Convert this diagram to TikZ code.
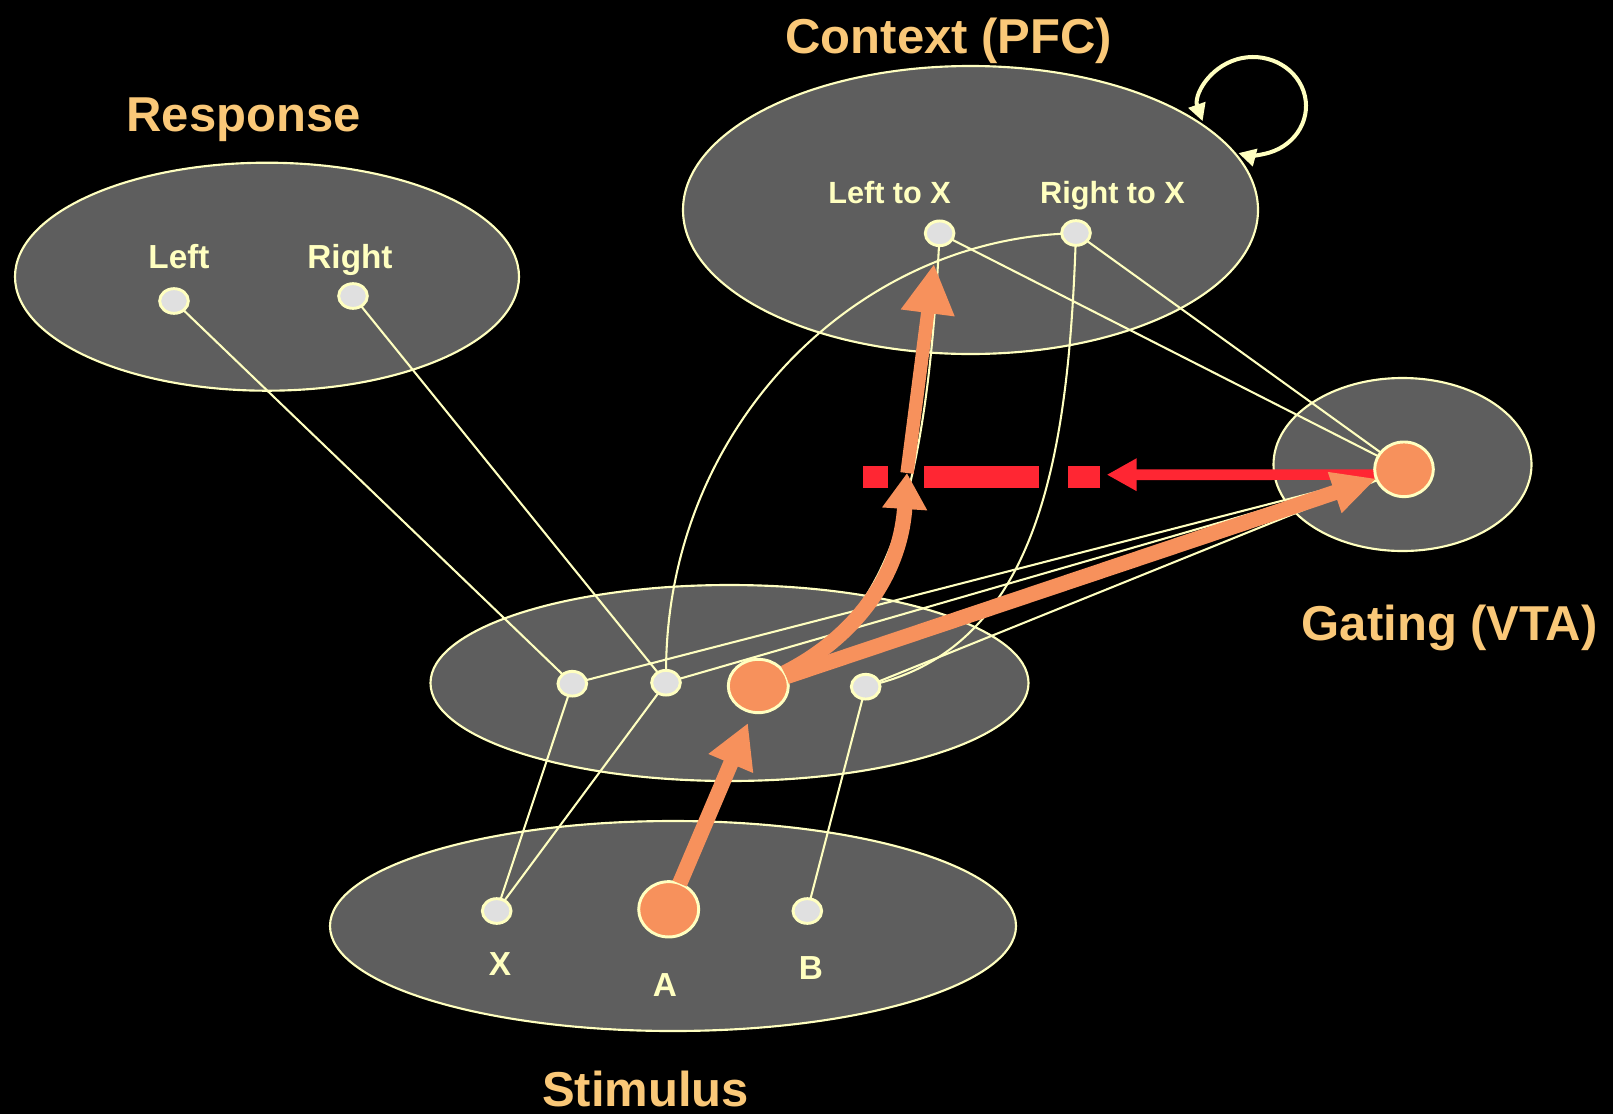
\documentclass[tikz,border=0pt]{standalone}
\usepackage{fontspec}
\setmainfont{Liberation Sans}
\usetikzlibrary{shapes.geometric,arrows.meta}

\definecolor{layergray}{HTML}{5E5E5E}
\definecolor{unitgray}{HTML}{E0E0E0}
\definecolor{cream}{HTML}{FFFFC0}
\definecolor{titlecol}{HTML}{FAC878}
\definecolor{salmon}{HTML}{F7915C}
\definecolor{alarm}{HTML}{FF2633}

\pgfdeclarelayer{ellipses}
\pgfdeclarelayer{edges}
\pgfsetlayers{ellipses,edges,main}

\begin{document}
\begin{tikzpicture}[x=0.75pt,y=-0.75pt,
  every node/.style={inner sep=0pt, outer sep=0pt},
  layer/.style={ellipse, draw=cream, line width=1.6pt, fill=layergray},
  unit/.style={ellipse, draw=cream, line width=2.2pt, fill=unitgray,
    minimum width=21.5pt, minimum height=18.5pt},
  hot/.style={ellipse, draw=cream, line width=2.2pt, fill=salmon,
    minimum width=45pt, minimum height=40pt},
  wire/.style={draw=cream, line width=1.55pt},
  flow/.style={draw=salmon, line width=11.5pt},
  title/.style={text=titlecol, font=\fontsize{36.75}{44}\selectfont\bfseries, anchor=base},
  tag/.style={text=cream, font=\fontsize{23}{28}\selectfont\bfseries, anchor=base},
  bigtag/.style={text=cream, font=\fontsize{25}{30}\selectfont\bfseries, anchor=base},
]
\useasboundingbox (0,0) rectangle (1613,1114);

% canvas and pools of units
\begin{pgfonlayer}{ellipses}
  \fill[black] (0,0) rectangle (1613,1114);
  \node[layer, minimum width=378pt, minimum height=171pt] (resp) at (267,276.7) {};
  \node[layer, minimum width=431.25pt, minimum height=216pt] (ctx) at (970.5,210) {};
  \node[layer, minimum width=193.5pt, minimum height=129.75pt] (gate) at (1402.5,464.5) {};
  \node[layer, minimum width=448.5pt, minimum height=147pt] (hid) at (729.5,683) {};
  \node[layer, minimum width=514.5pt, minimum height=157.5pt] (stim) at (673,926) {};
\end{pgfonlayer}

% units
\node[unit] (rl) at (174,301) {};
\node[unit] (rr) at (353,296) {};
\node[unit] (ltx) at (939.6,233.3) {};
\node[unit] (rtx) at (1076,233) {};
\node[unit] (h1) at (572.3,683.7) {};
\node[unit] (h2) at (666,682.7) {};
\node[hot]  (ho) at (758.3,686) {};
\node[unit] (h4) at (865.7,686.7) {};
\node[unit] (sx) at (496.7,911) {};
\node[hot, minimum height=41.5pt] (sa) at (668.7,909.3) {};
\node[unit] (sb) at (807.3,911) {};
\node[hot, minimum width=44pt, minimum height=41pt] (go) at (1404,469.3) {};

\coordinate (redtip) at (1106.7,474.7);
\coordinate (dashstart) at (1100,476.5);
\coordinate (dashend) at (863,476.5);
\coordinate (hoin) at (748,723);
\coordinate (midtip) at (907,473);
\coordinate (ltxin) at (934,264);

% connections
\begin{pgfonlayer}{edges}
  \draw[wire] (rl) -- (h1);
  \draw[wire] (rr) -- (h2);
  \draw[wire] (sx) -- (h1);
  \draw[wire] (sx) -- (h2);
  \draw[wire] (sb) -- (h4);
  \draw[wire] (h1) -- (go);
  \draw[wire] (h2) -- (go);
  \draw[wire] (h4) -- (go);
  \draw[wire] (ltx) -- (go);
  \draw[wire] (rtx) -- (go);
  \draw[wire] (h2) .. controls (667,430) and (850,245) .. (rtx);
  \draw[wire] (rtx) .. controls (1068,450) and (1040,640) .. (h4);
  \draw[wire] (ho) .. controls (880,620) and (925,520) .. (ltx);
  % recurrent loop on the context pool
  \draw[cream, line width=3pt,
    {Triangle[length=13pt,width=13pt]}-{Triangle[length=13pt,width=13pt]}]
    (1253,106) ++(162:53 and 49) arc[start angle=162, end angle=466, x radius=53, y radius=49];
  % gating signal
  \draw[alarm, line width=8pt, -{Triangle[length=22.5pt,width=23pt]}]
    ([yshift=-4pt]go.west) -- (redtip);
  \draw[alarm, line width=16.5pt,
    dash pattern=on 24pt off 21.75pt on 86pt off 27pt on 18.75pt] (dashstart) -- (dashend);
\end{pgfonlayer}

% active pathway
\draw[flow, -{Triangle[length=33pt,width=34pt]}] (sa) -- (hoin);
\draw[flow, -{Triangle[length=33pt,width=30pt]}] (ho) -- (go);
\draw[flow, -{Triangle[length=27pt,width=32pt]}] (ho) .. controls (850,640) and (900,580) .. (midtip);
\draw[flow, line width=10pt, -{Triangle[length=37pt,width=38pt]}] (midtip) -- (ltxin);

% titles
\node[title] (tresp) at (243.6,131.7) {Response};
\node[title] (tctx) at (948.8,53.3) {Context (PFC)};
\node[title] (tgate) at (1449.7,640.7) {Gating (VTA)};
\node[title] (tstim) at (645.5,1106) {Stimulus};

% unit labels
\node[tag] (lltx) at (889.6,203) {Left to X};
\node[tag] (lrtx) at (1112.5,203) {Right to X};
\node[bigtag] (lrl) at (179,268) {Left};
\node[bigtag] (lrr) at (350,268) {Right};
\node[bigtag] (lsx) at (500,975) {X};
\node[bigtag] (lsa) at (665,996.7) {A};
\node[bigtag] (lsb) at (811,979) {B};
\end{tikzpicture}
\end{document}
